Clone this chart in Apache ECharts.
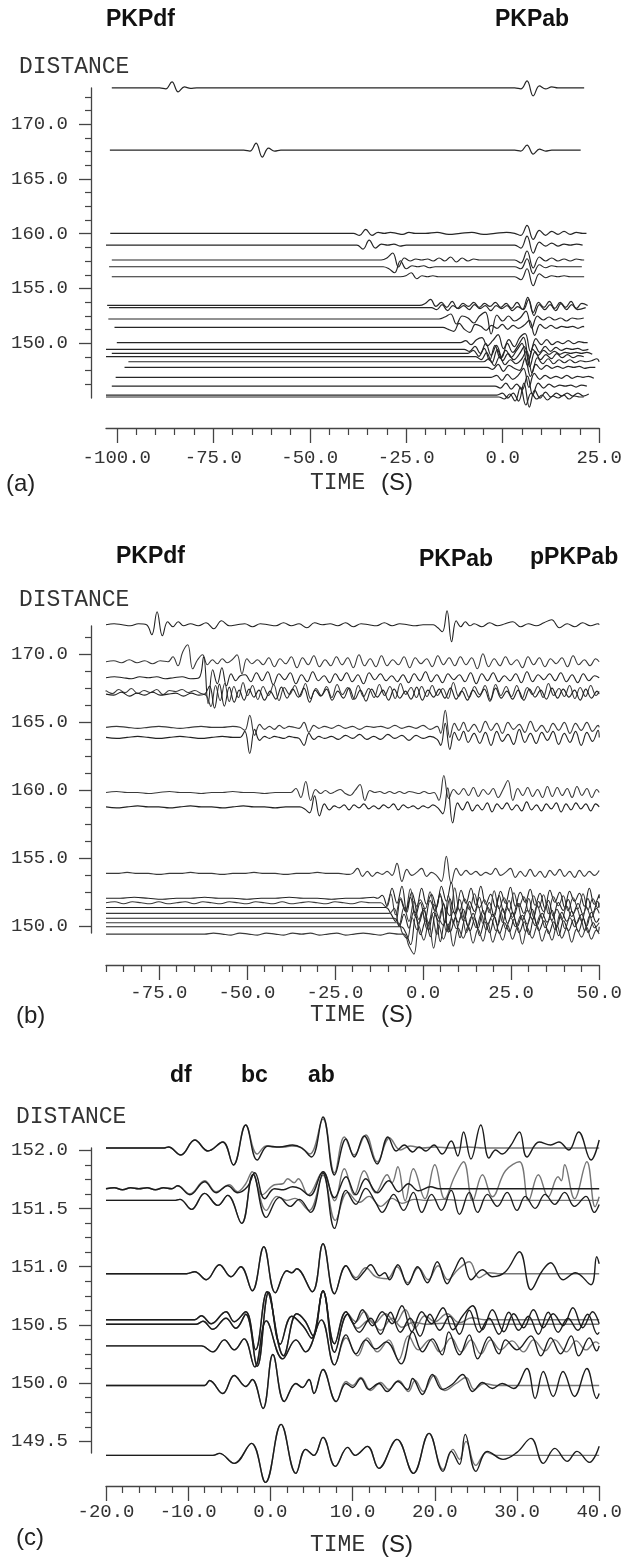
<!DOCTYPE html>
<html><head><meta charset="utf-8">
<script src="https://cdn.jsdelivr.net/npm/echarts@6/dist/echarts.min.js"></script>
<style>html,body{margin:0;padding:0;background:#fff}#c{width:625px;height:1562px}</style>
</head><body><div id="c"></div>
<script>
// ---------------- DATA ----------------
// Panel (a): distances, trace time spans, bursts [onset, sample step (s), amplitudes]
const aDist = [173.31,167.63,160.03,158.96,157.60,156.98,156.07,153.45,153.25,152.21,151.45,150.05,149.44,149.08,148.77,148.31,147.80,146.89,146.09,145.27,145.09];
const aSpan = [[-101.3,21.1],[-101.8,20.2],[-101.7,21.7],[-102.8,20.0],[-101.3,21.1],[-102.0,20.5],[-101.3,21.1],[-102.5,22.0],[-102.0,21.5],[-102.2,21.0],[-100.6,21.0],[-100.0,22.0],[-102.8,20.0],[-101.3,21.0],[-102.8,21.0],[-97.0,25.6],[-98.0,24.0],[-100.3,23.5],[-101.3,21.0],[-102.8,21.0],[-102.8,21.0]];
const aBursts = [
 [[-88.9,1.6,[0,-1,6,-4,1,-0.5,0]],[3.1,1.6,[0,-1,7,-8,2,-1,1,0]]],
 [[-67.1,1.6,[0,-1,7,-7,2,-1,0]],[3.1,1.6,[0,-1,5,-4,1,-1,0]]],
 [[-38.7,1.6,[0,-2,4,-2,1,0,1,0,-1,1,0]],[-20,3,[0,1,-1,0,1,-1,0,1]],[3.1,1.6,[0,-2,8,-6,3,-2,2,-1,2,-1,1,0]]],
 [[-37.8,1.6,[0,-4,5,-3,1,0,1,-1,0]],[3.1,1.6,[0,-3,9,-8,3,-1,2,-1,1,0,1,0]]],
 [[-31.5,1.5,[0,2,7,-7,2,-1,1,0,1,-1,2,-1,3,-2,2,-1,1,0]],[3.1,1.6,[0,-3,9,-8,3,-1,2,-1,1,-1,1,0]]],
 [[-31,1.5,[0,-2,-6,6,-2,1,0,1,-1,0]],[3.1,1.6,[0,-2,8,-7,2,-1,1,0]]],
 [[-26.5,1.4,[0,1,4,-2,1,0,1,0]],[3.1,1.6,[0,-3,8,-9,3,-1,1,0,1,0]]],
 [[-21.5,1.4,[0,2,6,-1,3,-2,4,-3,2,-1,3,-2,2,-1,3,-2,2,-3,3,-4,8,-7,3,-2,4,-3,3,-2,4,-3,2]]],
 [[-18.5,1.4,[0,-2,3,-3,2,-1,2,-2,3,-1,2,-3,2,-1,2,-3,1,-2,8,-8,3,-2,3,-3,4,-2,3,-2]]],
 [[-16.5,1.5,[0,2,5,-5,3,1,-4,3,7,-15,4,-2,3,-2,1,8,-9,3,-1,2,-1,1,-2,1,0,1]]],
 [[-15.5,1.4,[0,-2,-4,4,-2,-5,3,1,-3,2,-1,3,-2,2,-1,2,7,-8,3,-1,2,-1,1,0,1,-1,1]]],
 [[-11,1.4,[0,2,-2,3,5,-3,2,8,-6,3,-4,5,9,-9,4,-2,3,-2,1,-1,2,-1,1,0]]],
 [[-10,1.4,[0,-2,3,-4,6,-6,4,-8,6,-3,4,12,-10,5,-3,3,-2,2,-1,1,0,1,-1,0]]],
 [[-9,1.4,[0,3,-3,5,-7,8,-5,3,-4,3,10,-12,4,-2,3,-1,2,-1,1,0,1,0,1,-1]]],
 [[-7,1.4,[0,-3,4,-6,7,-4,3,-3,2,10,-10,5,-3,2,-2,3,-1,2,-1,1]]],
 [[-5,1.4,[0,3,-4,5,-3,2,-2,2,11,-11,4,-2,3,-2,2,-1,2,-1,1,0,1,3]]],
 [[-4,1.4,[0,-2,3,-4,2,-1,-3,9,-9,3,-2,2,-1,1,-1,1,0,1,-1,0]]],
 [[-3,1.4,[0,2,-3,3,-2,2,9,-10,4,-2,2,-1,1,-1,2,-1,1,0,1,-1]]],
 [[-2,1.4,[0,-2,3,-3,2,-4,10,-9,3,-2,2,-1,1,0,1,-1,1,0]]],
 [[-1.5,1.4,[0,2,-3,2,-6,12,-12,5,-3,3,-2,2,-1,2,-1,2,-1,1]]],
 [[-1,1.4,[0,-2,3,-4,10,-8,4,-2,2,-3,1,-1,2,-2,1,0]]]
];

// Panel (b)
const bDist = [172.15,169.43,168.26,167.24,167.05,164.61,163.87,159.82,158.76,153.87,152.04,151.71,151.37,150.93,150.57,150.24,149.95,149.41];
const bSpan = [-90, 50];
const bBursts = [
 [[-90,2.3,[0,1,0,-1,1,0]],[-78.5,1.5,[0,-10,13,-11,3,-2,3,-1]],[-66,2.2,[1,-1,2,-4,4,-1,0,1,-2,1,0,-1,2,-1,1,-3,2,0,1,-1,2,-2,1,0,-1,2,-1,1,0,-1,0]],[2.9,1.3,[0,-3,-7,14,-17,4,-2,3,-1]],[14.5,2.2,[1,-2,2,-1,1,3,-2,1,-1,2,5,-3,1,-2,2,-1,1]]],
 [[-90,2.2,[0,1,-1,2,-1,1,-2,1,0]],[-72.4,1.4,[0,5,-4,10,17,-7,2,7,-3,2,-2,3,-1,2,7,-12,3,-2]],[-47,1.6,[2,-3,4,-5,3,-2,5,-6,4,-3,6,-5,2,-4,5,-3,4,-6,7,-4,3,-5,6,-4,2,-3,5,-6,4,-2,3,-5,6,-3,4,-4,5,-3,4,-7,8,-5,3,-4,5,-3,2,-6,5,-3,4,-5,3,-2,4,-5,6,-3,2,-4,3,-2,3]]],
 [[-90,2.4,[0,1,0,-1,1,0,1,-1,0,1,-1,0]],[-63.6,1.3,[0,21,-26,8,-6,10,-8,4,-3,2]],[-50.5,1.6,[3,-4,5,-3,6,-7,4,-2,5,-6,3,-4,6,-3,2,-5,4,-3,5,-4,3,-6,5,-2,4,-3,2,-4,3,-5,4,-3,6,-4,3,-5,4,-2,3,-4,5,-6,4,-3,5,-4,2,-3,4,-5,6,-4,3,-2,4,-3,5,-4,3,-5,4,-3,2,-4,3]]],
 [[-90,1.8,[1,-2,2,-1,3,-2,1,-1,2,-3,1,0,2,-1,1,-2]],[-61.5,1.3,[-4,-15,6,-9,8,-10,5,-6,9,-4]],[-48.4,1.5,[6,-8,5,-4,7,-9,4,-3,6,-5,8,-7,3,-4,5,-6,7,-3,4,-8,6,-5,3,-6,7,-4,5,-7,8,-3,4,-6,5,-5,6,-4,3,-7,9,-5,4,-6,5,-3,6,-8,7,-4,5,-5,6,-7,4,-3,5,-6,8,-4,3,-5,6,-7,4,-5,6,-4,5]]],
 [[-90,2.2,[0,-1,2,-2,1,-1,2,-1,0,1,-2,1,-1]],[-62,1.4,[0,8,-14,10,-12,7,-8,4,-6,5,-3]],[-46.6,1.6,[4,-6,3,-5,7,-4,5,-3,6,-8,4,-2,5,-6,3,-4,6,-5,4,-7,5,-3,4,-6,5,-4,3,-5,7,-6,4,-3,5,-4,6,-5,3,-6,4,-3,5,-7,6,-4,3,-5,4,-6,5,-3,4,-5,6,-4,5,-3,4,-6,5,-4,3,-5]]],
 [[-90,3,[0,1,0,-1,0,1,0,-1,0,1,0,0,1]],[-52,1.4,[0,-3,12,-8,3,-2,1,-2,2,-1,1,0,-1,5,-5,2,-1]],[-28,2,[1,-1,2,-1,1,-2,1,0,1,-1,2,-1,1,-1,2,-2,1]],[5.0,1.3,[-6,17,-10,4,-3,5,-4]],[14.5,1.6,[3,-5,6,-3,4,-6,5,-2,3,-5,6,-4,2,-5,4,-3,5,-6,4,-3,5,-4,2,-3]]],
 [[-90,3,[0,-1,0,1,0,-1,0,1,0,-1,0,1,0]],[-52,1.4,[0,6,-16,8,-3,1,-1,1,0,-1,1,0,-1,-8,4,-2,1]],[-28,2,[-1,1,-2,2,-1,3,-2,1,-2,3,-1,2,-3,2,-1,1,-2]],[5.0,1.3,[-8,14,-12,5,-3,6,-5]],[14.5,1.6,[4,-6,5,-8,6,-4,3,-7,8,-5,4,-6,5,-3,6,-7,4,-5,6,-8,5,-4,7,-6]]],
 [[-90,3,[0,1,0,0,-1,0,1,0,0,-1,0,0,1,0,0,-1,0,0]],[-37.5,1.4,[0,4,-5,11,-8,3,-1,2,-1,1,3,-1,-3,2,8,-8,2,0,1,-1,1,-1,1,-1,1,0,-1,1,-1,0,-8,17,-6,3,-2,4,-3,5,-4,3,-2,4,-5,3,12,-8,4,-3,5,-4,3,-5,6,-4,5,-3,4,-5,6,-3,4,-5,3,-2]]],
 [[-90,3,[0,-1,0,1,0,0,-1,0,1,0,0,-1,0,1,0,0,-1,0]],[-35,1.4,[0,-2,-6,11,-9,3,-3,1,-1,2,-3,2,-1,3,-2,1,-2,2,-1,3,-3,2,-1,1,-2,1,-1,2,-1,-7,19,-16,4,-3,5,-4,2,-3,4,-5,3,-2,4,-3,2,-4,5,-3,2,-4,3,-2,4,-5,3,-3,4,-2,3,-4,3,-2,1,-3]]],
 [[-90,3,[0,0,1,0,0,-1,0,0,1,0,0,-1,0,0,1,0,0,-1,0,0,1,0,0,-1]],[-20,1.4,[0,5,-3,2,-3,1,-1,2,-2,10,-8,4,-2,1,5,-3,1,-2,-8,17,-10,5,-2,3,-1,2,-2,1,-1,5,-2,1,5,-4,2,-3,4,-3,2,-4,3,-2,4,-3,2,-4,3,-3,2,-2,3,-3]]],
 [[-90,4,[0,0,1,0,-1,0,0,1,0,0,-1,0,0,1,0,0,-1,0,0,1]],[-13,1.4,[0,3,-8,10,-5,12,-14,6,-8,10,-6,4,-9,12,-3,16,-15,8,-5,10,-7,12,-6,4,-9,7,-5,11,-8,6,-4,9,-7,5,-10,8,-4,6,-9,7,-3,5,-8,10,-6,4,-5]]],
 [[-90,2.5,[0,1,-1,1,0,-1,1,-1,0,1,-1,1,0,-1,1,0,-1,1,0,-1,1,-1,0,1,0,-1,1,0,-1,1,0]],[-12,1.4,[0,-4,9,-12,5,-8,14,-10,3,-6,11,-9,7,-5,-13,15,-8,4,-7,9,-5,3,-10,12,-6,5,-8,10,-4,6,-9,7,-5,8,-11,6,-3,7,-8,5,-6,9,-7,4,-5,6]]],
 [[-10.6,1.4,[0,-6,-14,8,-4,10,-9,5,-12,7,-3,14,-16,9,-6,8,-11,6,-4,10,-7,5,-9,12,-5,7,-8,4,-6,9,-10,6,-4,7,-9,5,-3,8,-6,4,-7,9,-5,6,-4]]],
 [[-9.6,1.4,[0,5,-12,6,-8,12,-6,3,-10,9,-4,-12,18,-10,5,-7,9,-5,7,-10,6,-3,8,-9,5,-4,10,-7,3,-6,8,-5,9,-7,4,-6,7,-3,5,-8,6,-4,5,-6,4]]],
 [[-8.2,1.4,[0,-8,4,-10,7,-5,10,-12,6,-3,15,-14,7,-4,9,-8,5,-10,8,-6,4,-7,10,-5,6,-8,3,-6,9,-7,5,-4,8,-9,6,-3,7,-5,4,-8,6,-4,5]]],
 [[-7.3,1.4,[0,-10,-16,5,-7,11,-6,8,-12,14,-9,4,-6,8,-10,6,-5,9,-7,4,-8,10,-6,5,-4,7,-9,6,-3,8,-5,4,-7,9,-6,5,-4,6,-8,7,-5,4,-3]]],
 [[-6.3,1.4,[0,-6,-18,10,-8,6,-10,14,-15,6,-5,9,-11,7,-4,8,-9,5,-6,10,-7,4,-5,8,-6,5,-8,9,-4,6,-7,5,-9,6,-4,7,-5,8,-6,4,-5,3]]],
 [[-62,2.5,[0,1,0,-1,1,0,-1,1,0,-1,1,0,1,-1,0,1,-1,0,1,0,-1,1,0]],[-5.4,1.4,[0,-12,-20,8,-6,12,-14,9,-5,10,-12,6,-4,8,-9,5,-7,11,-8,4,-6,9,-5,7,-10,6,-4,8,-7,5,-6,9,-4,6,-8,5,-3,7,-5,4,-3]]]
];

// Panel (c): observed (black) traces as [time, amplitude] pairs; synthetic (grey) follows observed up to split time
const cDist = [152.02,151.67,151.57,150.94,150.545,150.506,150.32,149.98,149.38];
const cObs = [
 [-20,0,-12.9,0,-12.4,1,-10.9,-7,-9.2,8,-7.6,-3,-5.8,6,-4.5,-17,-3.0,23,-1.6,-12,-0.3,2,1.1,1,2.7,3,3.8,0,5.0,-9,6.4,31,7.8,-27,9.2,9,10.2,-9,11.4,12,13.0,-16,14.3,11,15.3,-3,16.3,3,17.3,-4,18.1,1,18.9,-3,19.9,3,20.9,-6,22.0,7,22.8,-8,23.5,16,24.4,-11,25.6,23,26.6,-10,27.4,-2,28.2,-6,29.2,2,30.3,16,31.2,-9,32.7,6,34.1,3,35.1,6,36.3,-2,37.5,16,39.0,-12,40,8],
 [-20,0,-19,1,-18,-1,-17,1,-16,0,-15,1,-14,-1,-13,1,-12,0,-11.3,3,-9.8,-6,-8,7,-6.6,-4,-5.2,3,-4,-4,-2.8,2,-1.9,16,-0.7,-10,0.5,0,1.6,-1,2.7,2,3.6,0,4.8,-7,6.4,17,7.8,-9,9.2,12,10.4,-6,11.6,10,13,-4,14.4,8,15.6,-3,16.8,5,18,-2,19.5,2,20.5,0,40,0],
 [-20,0,-11.7,0,-11,1,-9.6,-9,-8.0,7,-6.4,-5,-5.2,5,-3.5,-23,-2.1,26,-0.5,-17,1.1,3,2.4,-6,3.5,1,4.9,-12,6.4,27,7.8,-28,9.2,10,10.4,-4,11.6,12,12.8,-2,13.6,-12,15.0,6,16.2,-10,17.4,8,18.4,-12,19.6,6,20.8,-10,22.0,10,23.0,-14,24.2,8,25.2,-12,26.4,6,27.6,-6,28.8,8,30.0,-10,31.0,4,32.2,-8,33.4,6,34.6,-4,35.8,8,37,-6,38.4,4,39.4,-12,40,-4],
 [-20,0,-10.2,0,-9.2,2,-7.8,-6,-6.2,9,-4.8,-3,-3.6,7,-2.2,-17,-0.8,27,0.6,-19,2.0,3,2.6,1,3.2,5,5.1,-18,6.4,30,7.8,-20,9.2,8,10.4,-6,11.4,2,12.2,9,13.3,-2,13.9,1,14.5,-6,15.5,9,16.7,-11,17.9,7,19.1,-9,20.3,12,21.5,-10,22.3,2,23.3,16,24.4,-6,25.8,4,27,-3,28.6,2,30.3,22,31.7,-16,33,2,34.1,11,35.6,-6,37.1,1,39,-11,39.7,17,40,10],
 [-20,0,-9.2,0,-8.4,4,-7.2,-4,-5.4,8,-4.4,-2,-3.0,8,-1.8,-30,-0.4,28,1.6,-36,3.2,6,4.2,-1,5.2,-16,6.4,29,7.8,-24,9.2,8,10.2,-4,11.2,10,12.4,-6,13.6,8,14.8,-4,16.0,14,17.2,-12,18.4,8,19.6,-4,21,12,22.2,-10,23.4,4,24.6,14,25.8,-10,27,10,28.4,-12,29.6,6,30.8,-8,32,10,33.2,-8,34.4,6,35.6,-6,36.8,12,38,-8,39.2,8,40,-4],
 [-20,0,-9.0,0,-8.2,3,-7.0,-5,-5.4,6,-4.2,-4,-3.0,10,-1.6,-42,-0.2,32,1.2,-20,2.6,8,4.0,-2,5.0,-14,6.4,33,7.8,-28,9.4,10,10.8,-8,12.2,6,13.4,-10,14.6,12,15.8,-8,17,6,18.2,-12,19.4,10,20.6,-6,21.8,8,23,-10,24.2,14,25.4,-8,26.6,6,27.8,-10,29,12,30.2,-6,31.4,8,32.6,-10,33.8,12,35,-8,36.2,6,37.4,-6,38.6,10,39.8,-10,40,-8],
 [-20,0,-8.4,0,-7.0,-6,-5.6,6,-4.4,-4,-3.2,7,-1.9,-21,-0.5,25,1.5,-13,3.1,6,4.3,-6,6.2,26,7.8,-19,9.2,11,10.4,-8,11.6,6,12.8,-3,14.1,4,15.9,-18,17.3,14,18.5,-6,19.7,7,20.9,-9,21.7,14,23,-9,24.2,11,25.2,-13,26.6,9,27.8,-8,28.6,6,30,-4,31.7,10,32.9,-10,34.1,8,35.3,-8,36.6,10,37.5,-10,38.8,8,39.7,-5,40,0],
 [-20,0,-8.0,0,-7.4,5,-5.8,-8,-4.4,10,-3.0,-1,-2.2,6,-0.9,-23,0.3,31,1.7,-16,3.1,2,3.9,-2,4.7,6,5.3,-8,6.4,16,8.0,-16,9.2,2,10,-2,11,7,12,-4,13.2,2,14.2,-6,15.5,4,16.7,-4,17.3,7,18.5,-9,19.7,11,20.9,-4,22.1,1,23.4,11,24.6,-6,25.8,3,27,-3,28.2,2,29.6,-3,31.2,17,32.2,-13,33.2,14,34.4,-11,35.6,14,37,-11,38.5,17,39.7,-13,40,-8],
 [-20,0,-7.0,0,-6.2,2,-4.4,-8,-2.3,12,-0.6,-27,1.3,31,3.1,-18,4.3,6,5.3,0,6.4,18,7.9,-11,9.4,8,10.3,0,11.8,9,13.2,-13,15.4,16,17.4,-18,19.3,22,21,-16,22,4,23,-9,23.7,21,25,-16,26.4,4,28.3,-4,30,3,31.7,17,33.2,-8,34.6,7,36.1,-6,37.3,4,38.8,-7,40,9]
];
const cSynSplit = [-3.0,-11.3,-2.1,9.2,9.2,9.4,7.8,8.0,19.3];
const cSyn = [
 [-1.6,-6,-0.5,2,0.5,1,1.6,1,2.6,2,3.6,1,4.8,-6,6.4,29,7.8,-25,9.0,11,10.2,-7,11.6,13,13.0,-14,14.5,10,15.8,-2,17.0,2,18.5,0,20,1,22,0,24,1,26,0,40,0],
 [-9.8,-5,-8.0,8,-6.6,-3,-5.0,4,-4.0,-3,-3.0,5,-2.2,17,-1.0,-6,0.5,4,1.5,5,2.1,10,2.9,6,3.4,10,4.6,-6,6.4,17,7.8,-12,9.0,20,10.2,-6,11.4,18,12.8,-4,14.2,14,14.8,6,15.5,22,16.4,-12,17.4,20,18.8,-10,20.0,24,21.2,-10,22.4,12,23.5,27,24.6,-12,25.8,14,27.0,-8,28.6,18,30.3,27,31.4,-12,32.6,14,33.8,-8,35.0,12,35.4,8,35.8,24,37.0,-10,38.5,27,39.5,-18,40,-8],
 [-0.5,-10,0.8,4,2,0,3,2,4.7,-10,6.4,25,7.9,-20,9.4,8,10.8,-2,12,4,13.4,-6,14.8,2,16,-3,17.5,1,19,0,21,1,23,0,40,0],
 [10.4,-4,11.6,6,12.8,-3,14.2,-5,15.4,7,16.7,-9,18,6,19.2,-6,20.4,8,21.6,-6,22.8,4,24.2,12,25.4,-4,26.6,1,28,0,40,0],
 [10.4,-2,11.4,8,12.6,-4,14,6,15.2,-3,16.4,10,17.6,-8,18.8,4,20,-2,21.5,6,23,-3,24.5,2,26,0,40,0],
 [10.6,-4,12,4,13.4,-6,14.8,6,16,-3,17.4,2,19,0,21,1,23,0,40,0],
 [9.2,8,10.6,-10,11.8,8,13,-6,14.4,6,15.6,-14,16.8,10,18,-4,19.4,6,20.6,-6,22,8,23.2,-6,24.4,6,25.6,-8,26.8,6,28,-4,29.4,5,30.8,-6,32,6,33.4,-5,34.6,6,36,-6,37.2,5,38.4,-4,39.6,4,40,2],
 [9.2,4,10,0,11,8,12.2,-5,13.4,3,14.4,-4,15.6,5,16.8,-6,17.6,5,18.6,-6,19.9,10,21.2,-5,22.6,2,23.8,8,24.8,-4,26,2,27.5,0,40,0],
 [21,-14,22.2,6,23,-4,23.8,14,25,-10,26.3,3,27.5,0,40,0]
];

// Axis ranges and ticks
const aX = [-102.8, 25], aY = [145, 173.3];
const bX = [-90, 50],    bY = [149.49, 172.06];
const cX = [-20, 40],    cY = [149.40, 152.02];
const aXMajor = [-100,-75,-50,-25,0,25];
const aXMinor = [-95,-90,-85,-80,-70,-65,-60,-55,-45,-40,-35,-30,-20,-15,-10,-5,5,10,15,20];
const aYMajor = [150,155,160,165,170];
const aYMinor = [146.25,147.5,148.75,151.25,152.5,153.75,156.25,157.5,158.75,161.25,162.5,163.75,166.25,167.5,168.75,171.25,172.5];
const bXMajor = [-75,-50,-25,0,25,50];
const bXMinor = [-90,-85,-80,-70,-65,-60,-55,-45,-40,-35,-30,-20,-15,-10,-5,5,10,15,20,30,35,40,45];
const bYMajor = [150,155,160,165,170];
const bYMinor = [151.25,152.5,153.75,156.25,157.5,158.75,161.25,162.5,163.75,166.25,167.5,168.75,171.25];
const cXMajor = [-20,-10,0,10,20,30,40];
const cXMinor = [-18,-16,-14,-12,-8,-6,-4,-2,2,4,6,8,12,14,16,18,22,24,26,28,32,34,36,38];
const cYMajor = [149.5,150.0,150.5,151.0,151.5,152.0];
const cYMinor = [149.625,149.75,149.875,150.125,150.25,150.375,150.625,150.75,150.875,151.125,151.25,151.375,151.625,151.75,151.875];

// ---------------- BUILD ----------------
const GAIN_A = 1/10.96, GAIN_B = 1/13.6, GAIN_C = 1/116.4;
function fromBursts(dist, span, bursts, gain, xmax) {
  const pts = [[span[0], dist]];
  bursts.forEach(b => b[2].forEach((a, i) => {
    const t = b[0] + i*b[1];
    if (t <= xmax + 1e-6) pts.push([t, dist + a*gain]);
  }));
  const last = pts[pts.length-1][0];
  if (span[1] > last) pts.push([Math.min(span[1], xmax), dist]);
  return pts;
}
function fromPairs(dist, arr, gain) {
  const pts = [];
  for (let i = 0; i < arr.length; i += 2) pts.push([arr[i], dist + arr[i+1]*gain]);
  return pts;
}
function line(data, gi, color, width) {
  return {type:'line', xAxisIndex: gi*2, yAxisIndex: gi*2, data, showSymbol:false, symbol:'none',
    smooth:0.4, clip:false, silent:true, animation:false, lineStyle:{color, width}};
}
const series = [];
aDist.forEach((d, i) => series.push(line(fromBursts(d, aSpan[i], aBursts[i], GAIN_A, aX[1]), 0, '#262626', 1.2)));
bDist.forEach((d, i) => series.push(line(fromBursts(d, bSpan, bBursts[i], GAIN_B, bX[1]), 1, i % 2 ? '#3a3a3a' : '#222', 1.1)));
cDist.forEach((d, i) => {
  const obs = fromPairs(d, cObs[i], GAIN_C);
  const syn = obs.filter(p => p[0] <= cSynSplit[i]).concat(fromPairs(d, cSyn[i], GAIN_C));
  series.push(line(syn, 2, '#757575', 1.4));
});
cDist.forEach((d, i) => series.push(line(fromPairs(d, cObs[i], GAIN_C), 2, '#1c1c1c', 1.4)));

const AX = '#444', TF = 'Liberation Mono';
function xAxes(gi, r, maj, min, off, margin) {
  return [
    {type:'value', gridIndex:gi, min:r[0], max:r[1], position:'bottom', offset:off,
     axisLine:{show:true, onZero:false, lineStyle:{color:AX, width:1.3}},
     axisTick:{show:true, length:15, customValues:maj, lineStyle:{color:AX, width:1.3}},
     axisLabel:{show:true, customValues:maj, formatter:v => Number(v).toFixed(1), fontFamily:TF, fontSize:19, color:'#333', margin, showMinLabel:true, showMaxLabel:true},
     splitLine:{show:false}},
    {type:'value', gridIndex:gi, min:r[0], max:r[1], position:'bottom', offset:off,
     axisLine:{show:false, onZero:false}, axisTick:{show:true, length:7, customValues:min, lineStyle:{color:AX, width:1.2}},
     axisLabel:{show:false}, splitLine:{show:false}}
  ];
}
function yAxes(gi, r, maj, min, off, margin) {
  return [
    {type:'value', gridIndex:gi, min:r[0], max:r[1], position:'left', offset:off,
     axisLine:{show:true, onZero:false, lineStyle:{color:AX, width:1.3}},
     axisTick:{show:true, length:12, customValues:maj, lineStyle:{color:AX, width:1.3}},
     axisLabel:{show:true, customValues:maj, formatter:v => Number(v).toFixed(1), fontFamily:TF, fontSize:19, color:'#333', margin, showMinLabel:true, showMaxLabel:true},
     splitLine:{show:false}},
    {type:'value', gridIndex:gi, min:r[0], max:r[1], position:'left', offset:off,
     axisLine:{show:false, onZero:false}, axisTick:{show:true, length:6, customValues:min, lineStyle:{color:AX, width:1.2}},
     axisLabel:{show:false}, splitLine:{show:false}}
  ];
}

function txt(x, y, text, font, color) {
  return {type:'text', x, y, silent:true, style:{text, font, fill:color || '#111', verticalAlign:'middle', align:'left'}};
}
const BOLD = 'bold 23px "Liberation Sans", Arial, sans-serif';
const MONO = '23px "Liberation Mono", monospace';
const SANS = '24px "Liberation Sans", Arial, sans-serif';
const graphic = [
  txt(106, 20, 'PKPdf', BOLD), txt(495, 20, 'PKPab', BOLD),
  txt(19, 67, 'DISTANCE', MONO, '#333'),
  txt(310, 483, 'TIME', MONO, '#333'), txt(381, 483, '(S)', SANS, '#222'), txt(6, 484, '(a)', SANS, '#222'),
  txt(116, 557, 'PKPdf', BOLD), txt(419, 560, 'PKPab', BOLD), txt(530, 558, 'pPKPab', BOLD),
  txt(19, 600, 'DISTANCE', MONO, '#333'),
  txt(310, 1015, 'TIME', MONO, '#333'), txt(381, 1015, '(S)', SANS, '#222'), txt(16, 1016, '(b)', SANS, '#222'),
  txt(170, 1076, 'df', BOLD), txt(241, 1076, 'bc', BOLD), txt(308, 1076, 'ab', BOLD),
  txt(16, 1117, 'DISTANCE', MONO, '#333'),
  txt(310, 1545, 'TIME', MONO, '#333'), txt(381, 1545, '(S)', SANS, '#222'), txt(16, 1538, '(c)', SANS, '#222')
];

const chart = echarts.init(document.getElementById('c'), null, {renderer:'canvas'});
chart.setOption({
  animation:false,
  backgroundColor:'#ffffff',
  grid:[
    {left:106, top:88, width:494, height:310},
    {left:106, top:626, width:494, height:307},
    {left:106, top:1148, width:494, height:305}
  ],
  xAxis:[].concat(xAxes(0, aX, aXMajor, aXMinor, 30, 20), xAxes(1, bX, bXMajor, bXMinor, 32, 18), xAxes(2, cX, cXMajor, cXMinor, 33, 16)),
  yAxis:[].concat(yAxes(0, aY, aYMajor, aYMinor, 15, 23), yAxes(1, bY, bYMajor, bYMinor, 15, 23), yAxes(2, cY, cYMajor, cYMinor, 15, 23)),
  series,
  graphic
});
</script></body></html>
